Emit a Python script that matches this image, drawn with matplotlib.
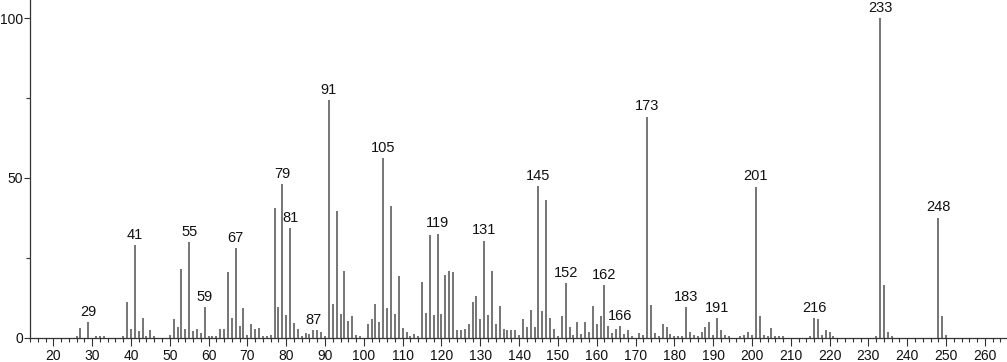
import matplotlib
matplotlib.use("Agg")
import matplotlib.pyplot as plt
from matplotlib.ticker import MultipleLocator

# m/z values and relative intensities
mz = [26, 27, 29, 31, 32, 33, 38, 39, 40, 41, 42, 43, 44, 45, 46,
      50, 51, 52, 53, 54, 55, 56, 57, 58, 59, 60, 61, 62, 63, 64, 65, 66, 67, 68, 69,
      70, 71, 72, 73, 74, 75, 76, 77, 78, 79, 80, 81, 82, 83, 84, 85, 86, 87, 88, 89,
      90, 91, 92, 93, 94, 95, 96, 97, 98, 99, 101, 102, 103, 104, 105, 106, 107, 108, 109,
      110, 111, 112, 113, 114, 115, 116, 117, 118, 119, 120, 121, 122, 123, 124, 125, 126,
      127, 128, 129, 130, 131, 132, 133, 134, 135, 136, 137, 138, 139, 140, 141, 142, 143,
      144, 145, 146, 147, 148, 149, 150, 151, 152, 153, 154, 155, 156, 157, 158, 159, 160,
      161, 162, 163, 164, 165, 166, 167, 168, 169, 171, 172, 173, 174, 175, 176, 177, 178,
      179, 180, 181, 182, 183, 184, 185, 186, 187, 188, 189, 190, 191, 192, 193, 194, 197,
      198, 199, 200, 201, 202, 203, 204, 205, 206, 207, 208, 215, 216, 217, 218, 219, 220,
      221, 232, 233, 234, 235, 236, 248, 249, 250]
intensity = [0.5, 3.0, 4.9, 0.5, 0.5, 0.5, 0.5, 11.3, 2.7, 29.0, 2.0, 6.3, 0.5, 2.4, 0.5,
             0.8, 5.8, 3.3, 21.4, 2.7, 29.8, 2.0, 2.7, 1.5, 9.5, 0.5, 0.5, 0.5, 2.7, 2.7, 20.6, 6.3, 28.1, 3.7, 9.3,
             0.8, 4.3, 2.7, 3.0, 0.5, 0.5, 0.8, 40.6, 9.6, 48.2, 7.1, 34.2, 4.6, 2.7, 0.5, 1.4, 1.2, 2.4, 2.4, 1.8,
             0.5, 74.4, 10.6, 39.8, 7.4, 21.0, 5.3, 6.8, 0.9, 0.6, 4.2, 5.8, 10.6, 4.9, 56.2, 9.3, 41.1, 7.4, 19.4,
             2.9, 1.8, 0.6, 1.3, 0.6, 17.5, 7.7, 32.0, 7.2, 32.6, 7.4, 19.6, 21.0, 20.6, 2.3, 2.3, 2.6,
             4.2, 11.2, 13.2, 6.0, 30.4, 7.1, 20.9, 4.2, 9.8, 2.6, 2.3, 2.3, 2.3, 0.9, 5.8, 3.3, 8.7,
             3.3, 47.5, 8.4, 43.1, 6.1, 2.6, 0.6, 6.8, 17.0, 3.5, 0.9, 4.9, 1.3, 4.9, 1.8, 9.8, 4.2,
             6.8, 16.5, 3.7, 1.6, 2.6, 3.7, 1.3, 2.4, 0.6, 1.6, 0.9, 69.2, 10.2, 1.6, 0.6, 4.2, 3.5,
             1.3, 0.6, 0.6, 0.6, 9.6, 1.8, 0.9, 0.6, 1.9, 3.2, 4.9, 0.9, 6.2, 2.3, 0.9, 0.6, 0.6,
             0.9, 1.8, 0.9, 47.3, 6.8, 0.9, 0.6, 2.9, 0.6, 0.6, 0.5, 0.6, 6.1, 6.0, 0.9, 2.3, 1.8,
             0.6, 0.6, 100.0, 16.4, 1.8, 0.6, 37.6, 6.8, 0.9]

labeled = [29, 41, 55, 59, 67, 79, 81, 87, 91, 105, 119, 131, 145, 152, 162, 166,
           173, 183, 191, 201, 216, 233, 248]

plt.rcParams['font.family'] = ['Liberation Sans', 'DejaVu Sans']

fig = plt.figure(figsize=(10.07, 3.62), dpi=100)
ax = fig.add_axes([30 / 1007, 24.3 / 362, 1 - 30 / 1007, 1 - 24.3 / 362])

ax.vlines(mz, 0, intensity, colors="#505050", linewidth=1.1)

for m in labeled:
    h = intensity[mz.index(m)]
    ax.text(m, h + 1.0, str(m), ha="center", va="bottom", fontsize=10.5, color="#111111")

ax.set_xlim(14, 265.7)
ax.set_ylim(0, 105.7)

ax.xaxis.set_major_locator(MultipleLocator(10))
ax.xaxis.set_minor_locator(MultipleLocator(2))
ax.yaxis.set_major_locator(MultipleLocator(50))
ax.yaxis.set_minor_locator(MultipleLocator(25))

ax.tick_params(axis="both", which="major", length=6, width=0.8, labelsize=10, colors="#333333", labelcolor="#111111")
ax.tick_params(axis="both", which="minor", length=3, width=0.8, colors="#333333")
ax.tick_params(axis="x", pad=2)
ax.tick_params(axis="y", which="major", length=4.5, pad=0.5)

for s in ["top", "right"]:
    ax.spines[s].set_visible(False)
for s in ["left", "bottom"]:
    ax.spines[s].set_color("#333333")
    ax.spines[s].set_linewidth(0.9)

fig.savefig("out.png", dpi=100)
